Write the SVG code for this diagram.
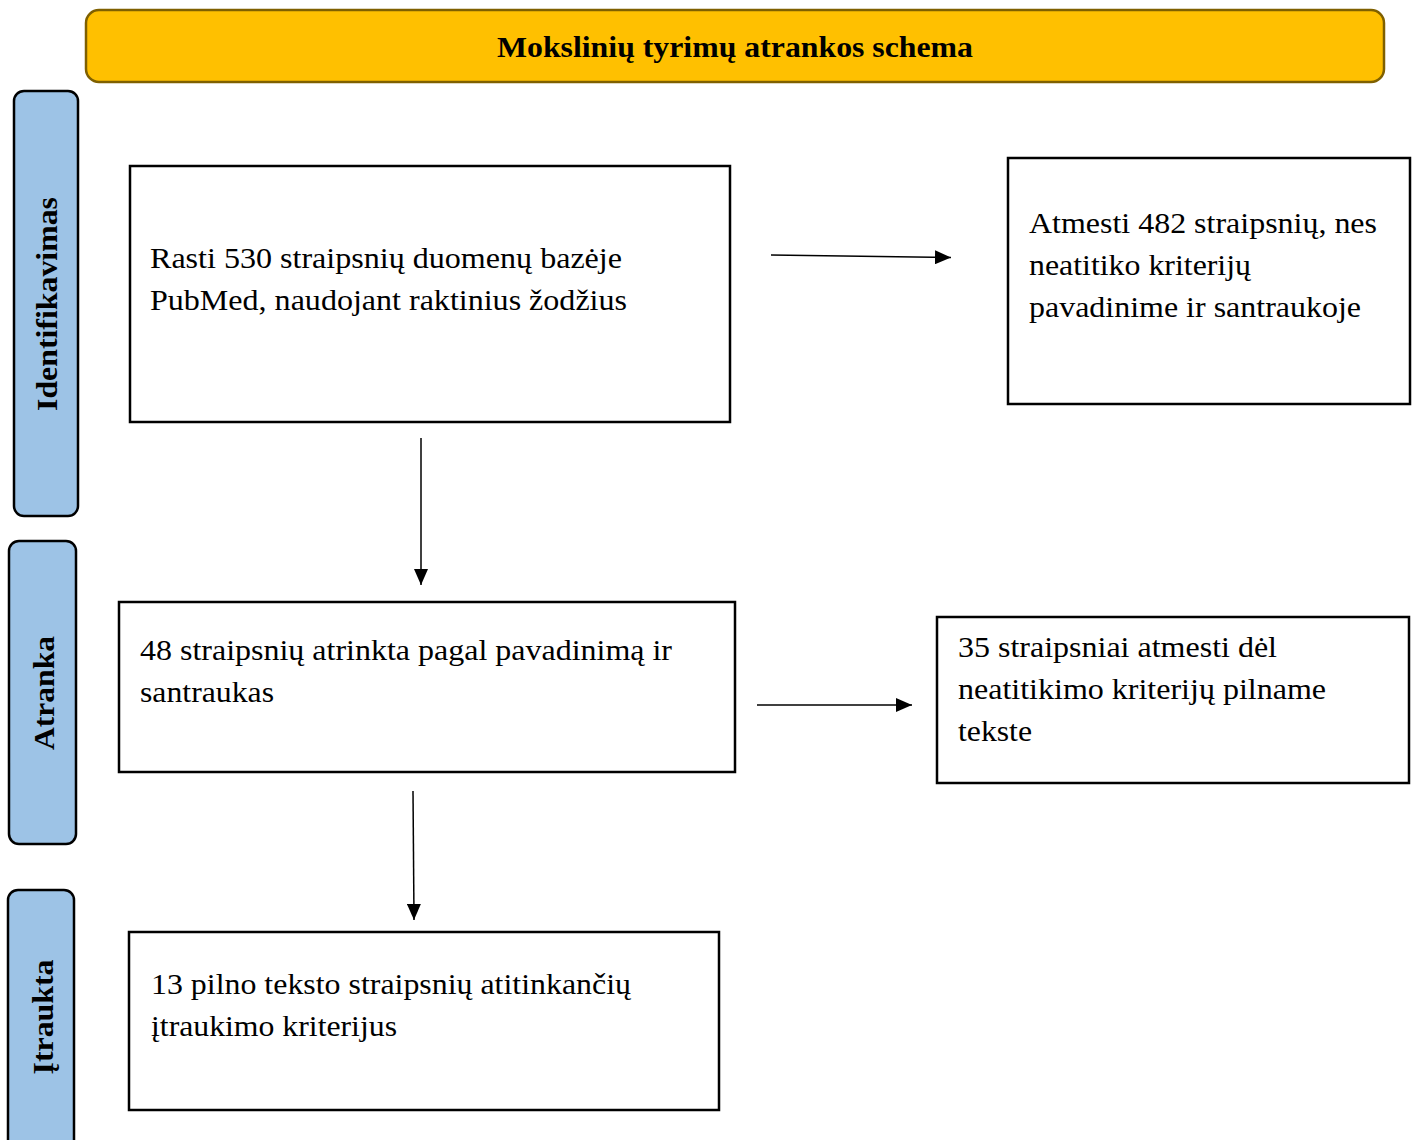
<svg xmlns="http://www.w3.org/2000/svg" width="1412" height="1140" viewBox="0 0 1412 1140">
<style>
.box{fill:#fff;stroke:#000;stroke-width:2.5}
.side{fill:#9DC3E6;stroke:#000;stroke-width:2.5}
.t{font-family:"Liberation Serif","Times New Roman",serif;font-size:30px;fill:#000}
.sl{font-family:"Liberation Serif","Times New Roman",serif;font-size:30px;font-weight:bold;fill:#000;text-anchor:middle}
.ln{stroke:#000;stroke-width:1.5;fill:none}
</style>
<defs>
<marker id="ah" markerUnits="userSpaceOnUse" markerWidth="18" markerHeight="14" refX="16" refY="7" orient="auto">
<path d="M0,0 L16,7 L0,14 Z" fill="#000"/>
</marker>
</defs>
<rect width="1412" height="1140" fill="#fff"/>
<g id="title">
<rect x="86" y="10" width="1298" height="72" rx="13" fill="#FFC000" stroke="#7F6000" stroke-width="2.5"/>
<text x="735" y="57" class="sl" textLength="476" lengthAdjust="spacingAndGlyphs">Mokslinių tyrimų atrankos schema</text>
</g>
<g id="phase-identifikavimas">
<rect x="14" y="91" width="64" height="425" rx="10" class="side"/>
<text class="sl" transform="translate(57,304) rotate(-90)" textLength="214" lengthAdjust="spacingAndGlyphs">Identifikavimas</text>
</g>
<g id="phase-atranka">
<rect x="9" y="541" width="67" height="303" rx="10" class="side"/>
<text class="sl" transform="translate(54,693) rotate(-90)" textLength="114" lengthAdjust="spacingAndGlyphs">Atranka</text>
</g>
<g id="phase-itraukta">
<rect x="8" y="890" width="66" height="270" rx="10" class="side"/>
<text class="sl" transform="translate(53,1017) rotate(-90)" textLength="115" lengthAdjust="spacingAndGlyphs">Įtraukta</text>
</g>
<g id="node-found">
<rect x="130" y="166" width="600" height="256" class="box"/>
<text class="t" x="150" y="268" textLength="472" lengthAdjust="spacingAndGlyphs">Rasti 530 straipsnių duomenų bazėje</text>
<text class="t" x="150" y="310" textLength="477" lengthAdjust="spacingAndGlyphs">PubMed, naudojant raktinius žodžius</text>
</g>
<g id="node-excluded1">
<rect x="1008" y="158" width="402" height="246" class="box"/>
<text class="t" x="1029" y="233" textLength="348" lengthAdjust="spacingAndGlyphs">Atmesti 482 straipsnių, nes</text>
<text class="t" x="1029" y="275" textLength="222" lengthAdjust="spacingAndGlyphs">neatitiko kriterijų</text>
<text class="t" x="1029" y="317" textLength="332" lengthAdjust="spacingAndGlyphs">pavadinime ir santraukoje</text>
</g>
<g id="node-screened">
<rect x="119" y="602" width="616" height="170" class="box"/>
<text class="t" x="140" y="660" textLength="532" lengthAdjust="spacingAndGlyphs">48 straipsnių atrinkta pagal pavadinimą ir</text>
<text class="t" x="140" y="702" textLength="134" lengthAdjust="spacingAndGlyphs">santraukas</text>
</g>
<g id="node-excluded2">
<rect x="937" y="617" width="472" height="166" class="box"/>
<text class="t" x="958" y="657" textLength="319" lengthAdjust="spacingAndGlyphs">35 straipsniai atmesti dėl</text>
<text class="t" x="958" y="699" textLength="368" lengthAdjust="spacingAndGlyphs">neatitikimo kriterijų pilname</text>
<text class="t" x="958" y="741" textLength="74" lengthAdjust="spacingAndGlyphs">tekste</text>
</g>
<g id="node-included">
<rect x="129" y="932" width="590" height="178" class="box"/>
<text class="t" x="151" y="994" textLength="480" lengthAdjust="spacingAndGlyphs">13 pilno teksto straipsnių atitinkančių</text>
<text class="t" x="151" y="1036" textLength="246" lengthAdjust="spacingAndGlyphs">įtraukimo kriterijus</text>
</g>
<g id="connectors">
<line class="ln" x1="771" y1="255" x2="951" y2="257.5" marker-end="url(#ah)"/>
<line class="ln" x1="421" y1="438" x2="421" y2="585" marker-end="url(#ah)"/>
<line class="ln" x1="757" y1="705" x2="912" y2="705" marker-end="url(#ah)"/>
<line class="ln" x1="413" y1="791" x2="414" y2="920" marker-end="url(#ah)"/>
</g>
</svg>
